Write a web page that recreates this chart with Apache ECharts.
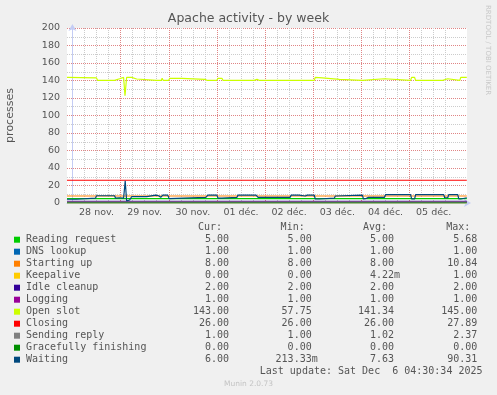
<!DOCTYPE html>
<html>
<head>
<meta charset="utf-8">
<script src="https://cdn.jsdelivr.net/npm/echarts@6/dist/echarts.min.js"></script>
<style>
html,body{margin:0;padding:0;background:#F0F0F0;}
#chart{width:497px;height:395px;}
</style>
</head>
<body>
<div id="chart"></div>
<script>
// x values are hours since 28 nov. 00:00
const dayLabels = ['28 nov.', '29 nov.', '30 nov.', '01 déc.', '02 déc.', '03 déc.', '04 déc.', '05 déc.'];
const yTickValues = [0, 20, 40, 60, 80, 100, 120, 140, 160, 180, 200];

const seriesNames = ['Reading request', 'DNS lookup', 'Starting up', 'Keepalive', 'Idle cleanup', 'Logging', 'Open slot', 'Closing', 'Sending reply', 'Gracefully finishing', 'Waiting'];
const seriesColors = ['#00CC00', '#0066B3', '#FF8000', '#FFCC00', '#330099', '#990099', '#CCFF00', '#FF0000', '#808080', '#008F00', '#00487D'];

const curVals = ['5.00', '1.00', '8.00', '0.00', '2.00', '1.00', '143.00', '26.00', '1.00', '0.00', '6.00'];
const minVals = ['5.00', '1.00', '8.00', '0.00', '2.00', '1.00', '57.75', '26.00', '1.00', '0.00', '213.33m'];
const avgVals = ['5.00', '1.00', '8.00', '4.22m', '2.00', '1.00', '141.34', '26.00', '1.02', '0.00', '7.63'];
const maxVals = ['5.68', '1.00', '10.84', '1.00', '2.00', '1.00', '145.00', '27.89', '2.37', '0.00', '90.31'];

const readingRequest = [[-2.7, 5], [83.5, 5], [84, 5.7], [84.5, 5], [196.5, 5]];
const dnsLookup = [[-2.7, 1], [196.5, 1]];
const startingUp = [[-2.7, 8], [196.5, 8]];
const keepalive = [[-2.7, 0], [196.5, 0]];
const idleCleanup = [[-2.7, 2], [196.5, 2]];
const logging = [[-2.7, 1], [196.5, 1]];
const openSlot = [
  [-2.7, 143.5], [12, 143], [12.5, 140.2], [21, 140.2], [21.5, 142], [23.5, 142], [24, 143.5],
  [25.5, 143.5], [26.2, 122.5], [27, 143.5], [29.5, 143.5], [30, 141.7], [32, 141.7], [32.5, 140.2],
  [41.8, 140.2], [42.2, 141.7], [42.6, 140.2], [44.3, 140.2], [44.7, 142.5], [45.2, 140.2], [48, 140.2],
  [48.5, 142.5], [54.5, 142.5], [55, 141.3], [66, 141.3], [66.5, 143], [67, 140.2], [72, 140.2],
  [72.5, 142.5], [74.5, 142.5], [75, 140.2], [90.5, 140.2], [91, 142], [92, 141.3], [92.5, 142],
  [93, 140.2], [96.3, 140.2], [96.7, 141.7], [97.2, 140.2], [108, 140.2], [108.5, 142], [109.5, 140.2],
  [120.5, 140.2], [121, 143.5], [124.5, 143], [125, 141.3], [133, 141.3], [133.5, 140.2], [144.5, 140.2],
  [145, 142], [155.5, 142], [156, 140.2], [168.5, 140.2], [169, 143.5], [170.5, 143.5], [171, 140.2],
  [184.5, 140.2], [185, 142], [187, 142], [187.5, 140.2], [193, 140.2], [193.5, 143.5], [196.5, 143.5]
];
const closing = [[-2.7, 26], [196.5, 26]];
const sendingReply = [[-2.7, 1], [196.5, 1]];
const gracefullyFinishing = [[-2.7, 0], [196.5, 0]];
const waiting = [
  [-2.7, 4.3], [2, 4.3], [2.5, 5.5], [11.5, 5.5], [12, 8.3], [15, 8.3], [15.5, 9.3], [16, 8.3], [21, 8.3],
  [21.5, 5.5], [23.5, 6], [24, 5], [25.5, 5.5], [26.3, 25.5], [27, 2.5], [28.5, 3.4], [29.5, 7.2], [37, 7.2],
  [37.5, 9], [41.5, 9], [42, 7], [43, 8.3], [44, 6.5], [45, 9], [47.5, 9], [48.2, 5], [49, 6.5], [66.5, 6.5],
  [67.5, 9], [72, 9], [72.5, 5.5], [74.5, 5.5], [75, 6.5], [82, 6.5], [82.5, 9], [90.5, 9], [91, 7.5],
  [91.5, 9], [92.5, 6.5], [108.5, 6.5], [109, 9], [112, 9], [112.5, 7.5], [113, 9], [116, 8], [117, 9],
  [120.5, 9], [121, 4.6], [123, 4.6], [123.5, 5.5], [130.5, 5.5], [131, 8], [131.5, 9], [144.5, 9],
  [145, 4.6], [146.5, 5.3], [147.5, 6.5], [155.5, 6.5], [156, 9.5], [168.5, 9.5], [169, 4.6], [170.5, 4.6],
  [171, 9.5], [183, 9.5], [183.5, 8], [184, 9.5], [185, 9.5], [185.5, 6], [187, 6], [187.5, 9.5],
  [192, 9.5], [192.5, 4.6], [193.5, 4.6], [194, 6], [196.5, 6]
];
const seriesData = [readingRequest, dnsLookup, startingUp, keepalive, idleCleanup, logging, openSlot, closing, sendingReply, gracefullyFinishing, waiting];

const X_MIN = -2.7, X_MAX = 196.6;
const midnights = dayLabels.map((d, i) => i * 24);
const noons = dayLabels.map((d, i) => i * 24 + 12);
const minorX = [];
for (let h = 6; h < X_MAX; h += 6) if (h % 24 !== 0) minorX.push(h);
const minorY = [];
for (let v = 10; v < 200; v += 20) minorY.push(v);

const FONT = 'DejaVu Sans';
const MONO = 'DejaVu Sans Mono';
const TXT = '#555555';
const MAJOR = '#e08585';
const MINOR = '#cccccc';
const AXIS = '#c4ccf4';

const chart = echarts.init(document.getElementById('chart'), null, {renderer: 'canvas'});

const graphics = [];
graphics.push({type: 'text', left: 'center', top: 12, style: {text: 'Apache activity - by week', font: '12.5px "' + FONT + '"', fill: TXT}});
graphics.push({type: 'text', x: 491, y: 5, rotation: -Math.PI / 2, style: {text: 'RRDTOOL / TOBI OETIKER', font: '7px "' + FONT + '"', fill: '#c8c8c8', textAlign: 'left', textVerticalAlign: 'top'}});
graphics.push({type: 'text', x: 248.5, y: 384, style: {text: 'Munin 2.0.73', font: '7.5px "' + FONT + '"', fill: '#c4c4c4', textAlign: 'center', textVerticalAlign: 'middle'}});

const colEnds = [229, 311.7, 394, 477.3];
const headers = ['Cur:', 'Min:', 'Avg:', 'Max:'];
headers.forEach((h, i) => {
  graphics.push({type: 'text', x: colEnds[i] - 7, y: 227.5, style: {text: h, font: '10px "' + MONO + '"', fill: TXT, textAlign: 'right', textVerticalAlign: 'middle'}});
});
const cols = [curVals, minVals, avgVals, maxVals];
seriesNames.forEach((name, r) => {
  const y = 239.7 + r * 12;
  graphics.push({type: 'rect', shape: {x: 14, y: y - 3, width: 6, height: 6}, style: {fill: seriesColors[r]}});
  graphics.push({type: 'text', x: 26, y: y, style: {text: name, font: '10px "' + MONO + '"', fill: TXT, textAlign: 'left', textVerticalAlign: 'middle'}});
  cols.forEach((col, c) => {
    const v = col[r];
    const unit = v.endsWith('m') ? 'm' : '';
    const num = unit ? v.slice(0, -1) : v;
    graphics.push({type: 'text', x: colEnds[c], y: y, style: {text: num, font: '10px "' + MONO + '"', fill: TXT, textAlign: 'right', textVerticalAlign: 'middle'}});
    if (unit) graphics.push({type: 'text', x: colEnds[c], y: y, style: {text: unit, font: '10px "' + MONO + '"', fill: TXT, textAlign: 'left', textVerticalAlign: 'middle'}});
  });
});
graphics.push({type: 'text', x: 482.5, y: 371.7, style: {text: 'Last update: Sat Dec  6 04:30:34 2025', font: '10px "' + MONO + '"', fill: TXT, textAlign: 'right', textVerticalAlign: 'middle'}});

const option = {
  animation: false,
  backgroundColor: '#F0F0F0',
  grid: {left: 67, top: 28, width: 400, height: 175, show: true, backgroundColor: '#ffffff', borderWidth: 0, containLabel: false, outerBoundsMode: 'none'},
  xAxis: [
    {
      type: 'value', min: X_MIN, max: X_MAX, position: 'bottom',
      axisLine: {show: true, lineStyle: {color: AXIS, width: 1}, symbol: ['none', 'arrow'], symbolSize: [6, 7], symbolOffset: [0, 4]},
      axisTick: {show: false, customValues: minorX},
      splitLine: {show: true, lineStyle: {color: MINOR, type: [1, 1], width: 1}},
      axisLabel: {customValues: noons, formatter: v => dayLabels[Math.round((v - 12) / 24)], color: TXT, fontFamily: FONT, fontSize: 9.5, margin: 5}
    },
    {
      type: 'value', min: X_MIN, max: X_MAX, position: 'top',
      axisLine: {show: false}, axisLabel: {show: false},
      axisTick: {show: false, customValues: midnights},
      splitLine: {show: true, lineStyle: {color: MAJOR, type: [1, 1], width: 1}}
    }
  ],
  yAxis: [
    {
      type: 'value', min: 0, max: 200, interval: 20, position: 'left',
      name: 'processes', nameLocation: 'middle', nameGap: 51, nameRotate: 90,
      nameTextStyle: {color: TXT, fontFamily: FONT, fontSize: 11},
      axisLine: {show: true, lineStyle: {color: AXIS, width: 1}, symbol: ['none', 'arrow'], symbolSize: [6, 7], symbolOffset: [0, 4]},
      axisTick: {show: false},
      splitLine: {show: true, lineStyle: {color: MAJOR, type: [1, 1], width: 1}},
      axisLabel: {color: TXT, fontFamily: FONT, fontSize: 9.5, margin: 7, formatter: v => yTickValues.includes(v) ? String(v) : ''}
    },
    {
      type: 'value', min: 0, max: 200, position: 'right',
      axisLine: {show: false}, axisLabel: {show: false},
      axisTick: {show: false, customValues: minorY},
      splitLine: {show: true, lineStyle: {color: MINOR, type: [1, 1], width: 1}}
    }
  ],
  series: seriesNames.map((name, i) => ({
    name: name, type: 'line', xAxisIndex: 0, yAxisIndex: 0,
    data: seriesData[i], showSymbol: false, symbol: 'none',
    lineStyle: {color: seriesColors[i], width: 1.2},
    itemStyle: {color: seriesColors[i]}, z: 3
  })),
  graphic: graphics
};
chart.setOption(option);
</script>
</body>
</html>
